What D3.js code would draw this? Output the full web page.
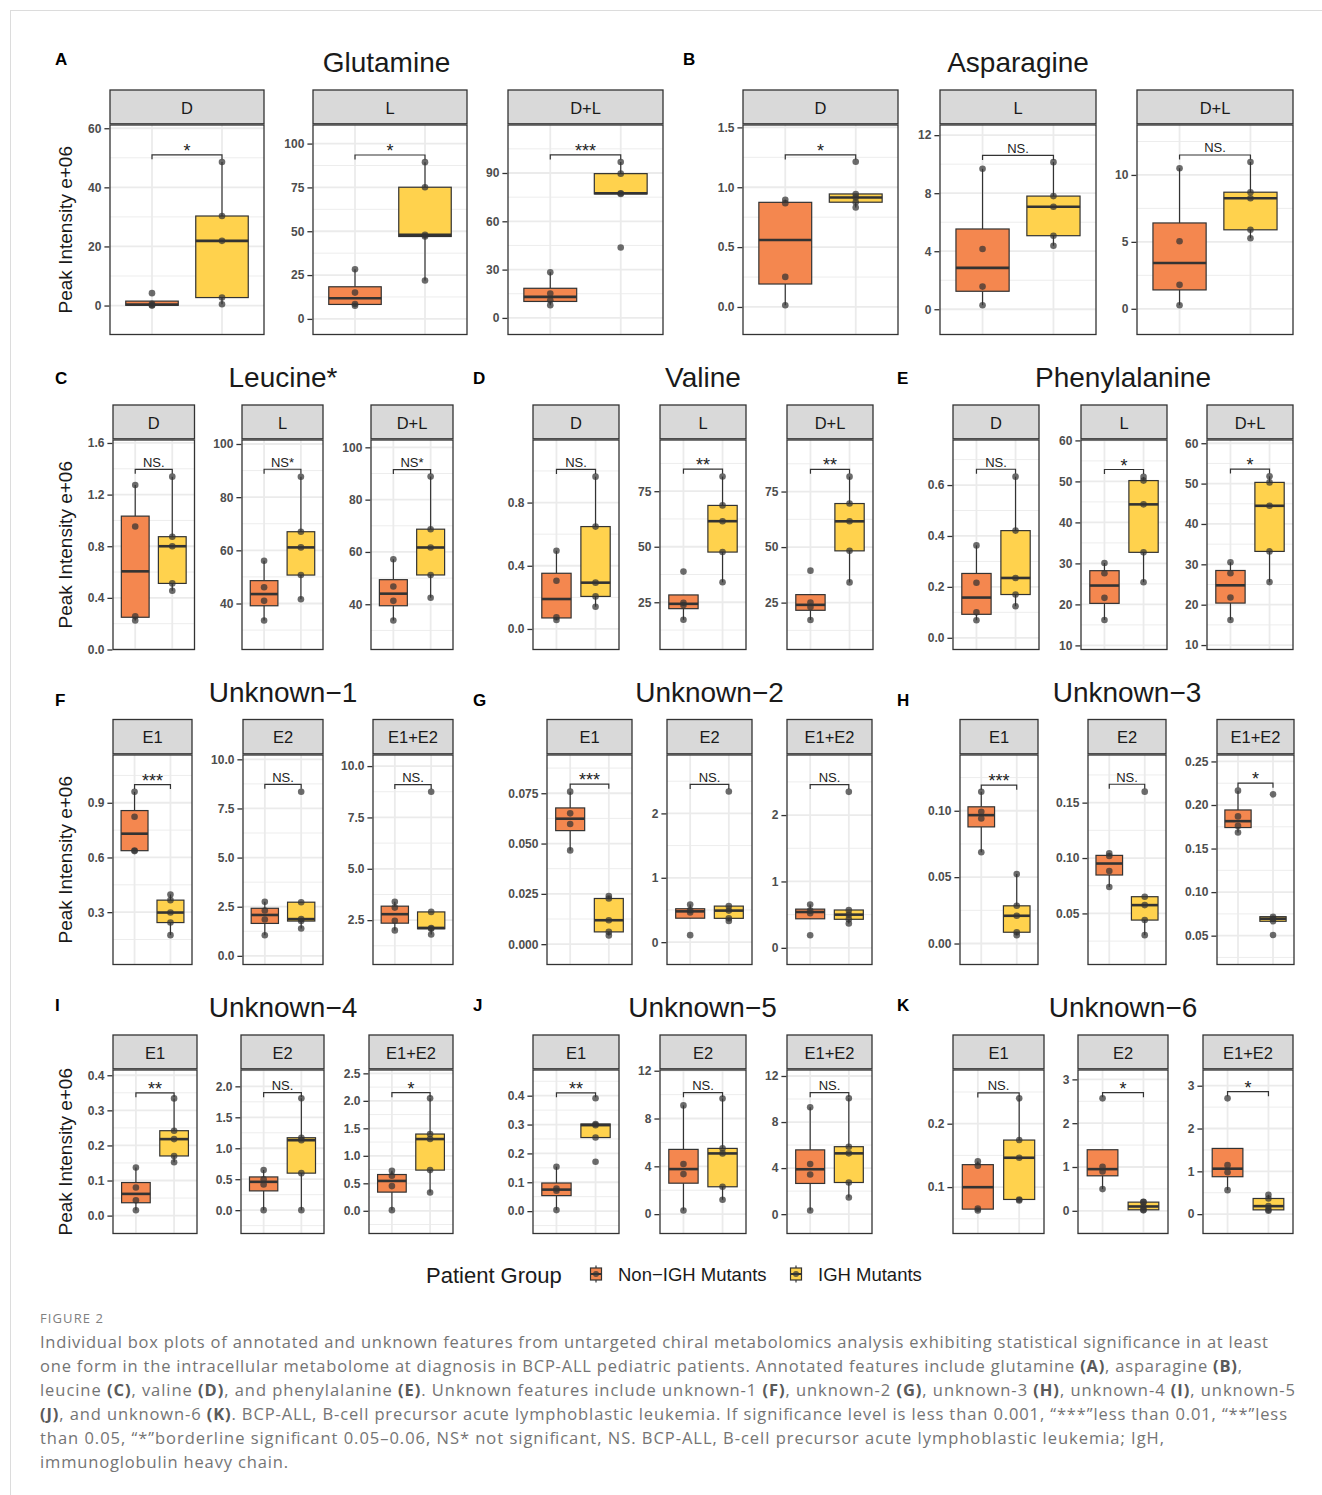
<!DOCTYPE html>
<html><head><meta charset="utf-8">
<script src="https://cdn.jsdelivr.net/npm/d3@7"></script>
<style>body{margin:0;background:#fff} svg{display:block}</style>
</head><body><script>
// ---------------- DATA ----------------
const groups = ["Non\u2212IGH Mutants", "IGH Mutants"];
const groupColors = ["#F4874F", "#FFD24D"];
const metabolites = ["Glutamine","Asparagine","Leucine*","Valine","Phenylalanine",
  "Unknown\u22121","Unknown\u22122","Unknown\u22123","Unknown\u22124","Unknown\u22125","Unknown\u22126"];
const panelLetters = ["A","B","C","D","E","F","G","H","I","J","K"];
const aminoForms = ["D","L","D+L"];
const unknownForms = ["E1","E2","E1+E2"];

// Non-IGH Mutants (n=4) values per metabolite, per form
const nonIGHValues = [
  [[0.0,0.1,0.6,4.2],[7.5,8.5,15.0,28.3],[7.9,11.0,15.1,28.3]],
  [[0.014,0.251,0.867,0.895],[0.28,1.56,4.15,9.68],[0.27,1.79,5.05,10.5]],
  [[0.225,0.258,0.953,1.274],[33.6,41.0,46.1,56.1],[33.8,41.3,46.8,57.2]],
  [[0.057,0.074,0.305,0.495],[17.1,23.8,24.8,38.8],[17.2,23.0,25.0,39.4]],
  [[0.069,0.10,0.216,0.363],[16.2,21.6,27.6,30.1],[16.2,21.8,27.8,30.5]],
  [[0.635,0.638,0.823,0.96],[1.05,1.85,2.31,2.75],[2.0,2.47,3.11,3.39]],
  [[0.0466,0.0597,0.065,0.0758],[0.109,0.46,0.497,0.585],[0.19,0.52,0.56,0.653]],
  [[0.0688,0.0942,0.0992,0.1143],[0.0738,0.0883,0.1018,0.1042],[0.1685,0.176,0.1869,0.2165]],
  [[0.0152,0.0438,0.08,0.137],[0.0,0.415,0.5,0.647],[0.012,0.449,0.637,0.728]],
  [[0.0035,0.0705,0.0786,0.154],[0.31,3.35,4.19,9.1],[0.32,3.45,4.35,9.28]],
  [[0.063,0.066,0.1337,0.1405],[0.495,0.90,1.003,2.567],[0.561,0.979,1.145,2.705]]
];
// IGH Mutants (n=5)
const ighValues = [
  [[0.45,2.7,21.9,30.3,48.6],[21.9,47.0,47.9,75.1,89.4],[43.7,77.0,77.4,89.6,96.8]],
  [[0.831,0.875,0.914,0.944,1.213],[4.38,5.07,7.07,7.8,10.14],[5.27,5.9,8.26,8.71,10.97]],
  [[0.455,0.512,0.80,0.874,1.339],[41.6,50.7,61.1,67.0,87.7],[42.5,51.2,61.7,68.7,88.8]],
  [[0.141,0.206,0.293,0.648,0.964],[34.0,47.6,61.5,68.6,81.6],[34.1,48.3,61.6,69.6,81.7]],
  [[0.124,0.170,0.235,0.421,0.633],[25.4,32.7,44.4,50.2,51.1],[25.6,33.2,44.5,50.3,51.8]],
  [[0.174,0.243,0.298,0.366,0.397],[1.39,1.77,1.87,2.73,8.35],[1.8,2.08,2.12,2.9,8.75]],
  [[0.0043,0.0061,0.0119,0.0227,0.0239],[0.33,0.37,0.49,0.56,2.34],[0.367,0.43,0.50,0.57,2.35]],
  [[0.0063,0.0085,0.0209,0.0284,0.0523],[0.0304,0.044,0.0575,0.0651,0.1599],[0.0508,0.0665,0.0695,0.0718,0.2122]],
  [[0.152,0.170,0.218,0.242,0.334],[0.0,0.598,1.13,1.17,1.806],[0.334,0.74,1.305,1.396,2.045]],
  [[0.171,0.255,0.298,0.302,0.391],[1.2,2.29,5.08,5.5,9.68],[1.45,2.75,5.28,5.86,10.06]],
  [[0.079,0.0805,0.1463,0.1742,0.24],[0.01,0.023,0.099,0.198,0.206],[0.078,0.10,0.187,0.366,0.452]]
];
const yTicks = [
  [[0,20,40,60],[0,25,50,75,100],[0,30,60,90]],
  [[0,0.5,1,1.5],[0,4,8,12],[0,5,10]],
  [[0,0.4,0.8,1.2,1.6],[40,60,80,100],[40,60,80,100]],
  [[0,0.4,0.8],[25,50,75],[25,50,75]],
  [[0,0.2,0.4,0.6],[10,20,30,40,50,60],[10,20,30,40,50,60]],
  [[0.3,0.6,0.9],[0,2.5,5,7.5,10],[2.5,5,7.5,10]],
  [[0,0.025,0.05,0.075],[0,1,2],[0,1,2]],
  [[0,0.05,0.1],[0.05,0.1,0.15],[0.05,0.1,0.15,0.2,0.25]],
  [[0,0.1,0.2,0.3,0.4],[0,0.5,1,1.5,2],[0,0.5,1,1.5,2,2.5]],
  [[0,0.1,0.2,0.3,0.4],[0,4,8,12],[0,4,8,12]],
  [[0.1,0.2],[0,1,2,3],[0,1,2,3]]
];
const yDomains = [
  [[-9.8,61.1],[-8.9,110.6],[-10.3,119.8]],
  [[-0.23,1.52],[-1.74,12.7],[-1.92,13.73]],
  [[0,1.623],[22.7,101.5],[22.7,102.8]],
  [[-0.13,1.196],[3.74,98.05],[3.9,98.2]],
  [[-0.046,0.777],[9.0,60.1],[8.9,60.8]],
  [[0.013,1.162],[-0.44,10.22],[0.34,10.54]],
  [[-0.0101,0.094],[-0.347,2.907],[-0.251,2.905]],
  [[-0.0158,0.142],[0.0039,0.193],[0.0169,0.2574]],
  [[-0.051,0.415],[-0.377,2.264],[-0.413,2.561]],
  [[-0.0775,0.489],[-1.62,12.06],[-1.68,12.52]],
  [[0.0268,0.2847],[-0.518,3.214],[-0.452,3.367]]
];
const bracketY = [
  [51,93.5,101.2],[1.27,10.6,11.49],[1.396,90.5,91.5],[1.01,84.9,85.0],[0.662,52.9,53.6],
  [1.0,8.73,9.1],[0.0795,2.45,2.46],[0.1193,0.1666,0.2251],[0.350,1.898,2.148],
  [0.41,10.16,10.55],[0.2486,2.696,2.86]
];
const sigLabels = [
  ["*","*","***"],["*","NS.","NS."],["NS.","NS*","NS*"],["NS.","**","**"],["NS.","*","*"],
  ["***","NS.","NS."],["***","NS.","NS."],["***","NS.","*"],["**","NS.","*"],["**","NS.","NS."],["NS.","*","*"]
];
const captionLines = [
  "Individual box plots of annotated and unknown features from untargeted chiral metabolomics analysis exhibiting statistical significance in at least",
  "one form in the intracellular metabolome at diagnosis in BCP-ALL pediatric patients. Annotated features include glutamine (A), asparagine (B),",
  "leucine (C), valine (D), and phenylalanine (E). Unknown features include unknown-1 (F), unknown-2 (G), unknown-3 (H), unknown-4 (I), unknown-5",
  "(J), and unknown-6 (K). BCP-ALL, B-cell precursor acute lymphoblastic leukemia. If significance level is less than 0.001, \u201c***\u201dless than 0.01, \u201c**\u201dless",
  "than 0.05, \u201c*\u201dborderline significant 0.05\u20130.06, NS* not significant, NS. BCP-ALL, B-cell precursor acute lymphoblastic leukemia; IgH,",
  "immunoglobulin heavy chain."
];

// ---------------- LAYOUT ----------------
const W = 1322, H = 1495;
const FONT = "'Liberation Sans', Arial, Helvetica, sans-serif";
const rowsLayout = [
  {stripTop:90, stripBot:125, bottom:334.5, titleY:72, letterY:65},
  {stripTop:405, stripBot:440, bottom:649.5, titleY:387, letterY:384},
  {stripTop:719.5, stripBot:755, bottom:964.5, titleY:702, letterY:706},
  {stripTop:1035, stripBot:1070, bottom:1233.5, titleY:1017, letterY:1011}
];
const metaRow = [0,0,1,1,1,2,2,2,3,3,3];
const panelX = [
  [[110,264],[313,467],[508,663]],
  [[743,898],[940,1096],[1137,1293]],
  [[113,194.5],[242,323],[371,453]],
  [[533,619],[660,746],[787,873]],
  [[953,1039],[1081,1167],[1207,1293]],
  [[113,192],[243,323],[373,453]],
  [[547,632],[667,752],[787,872]],
  [[960,1038],[1088,1166],[1217,1294]],
  [[113,197],[241,324],[369,453]],
  [[533,619],[660,746],[787,872]],
  [[953,1044],[1078,1168],[1203,1293]]
];
const letterX = [55,683,55,473,897,55,473,897,55,473,897];
const yTitleMetabolites = [0,2,5,8];

const svg = d3.select("body").append("svg").attr("width", W).attr("height", H)
  .style("font-family", FONT);

svg.append("rect").attr("x",10.5).attr("y",10.5).attr("width",1340).attr("height",1500)
  .attr("fill","none").attr("stroke","#dcdcdc").attr("stroke-width",1);

function boxStats(vals){
  const s = vals.slice().sort(d3.ascending);
  const q1 = d3.quantile(s,0.25), med = d3.quantile(s,0.5), q3 = d3.quantile(s,0.75);
  const iqr = q3-q1;
  const lo = d3.min(s.filter(v => v >= q1-1.5*iqr));
  const hi = d3.max(s.filter(v => v <= q3+1.5*iqr));
  return {q1, med, q3, lo, hi, s};
}
function decimalsFor(ticks){
  for (let d = 0; d < 8; d++) {
    if (ticks.every(t => Math.abs(+t.toFixed(d) - t) < 1e-9)) return d;
  }
  return 3;
}

metabolites.forEach((name, m) => {
  const row = rowsLayout[metaRow[m]];
  const px = panelX[m];
  svg.append("text").attr("x",(px[0][0]+px[2][1])/2).attr("y",row.titleY)
    .attr("text-anchor","middle").attr("font-size",28).attr("fill","#1a1a1a").text(name);
  svg.append("text").attr("x",letterX[m]).attr("y",row.letterY)
    .attr("font-size",17).attr("font-weight","bold").attr("fill","#000").text(panelLetters[m]);
  if (yTitleMetabolites.includes(m)) {
    const cy = (row.stripBot+row.bottom)/2;
    svg.append("text").attr("transform",`translate(72,${cy}) rotate(-90)`)
      .attr("text-anchor","middle").attr("font-size",19).attr("fill","#1a1a1a")
      .text("Peak Intensity e+06");
  }
  const forms = m < 5 ? aminoForms : unknownForms;
  forms.forEach((form, p) => {
    const [x0, x1] = px[p];
    const dom = yDomains[m][p];
    const y = d3.scaleLinear().domain(dom).range([row.bottom, row.stripBot]);
    const x = d3.scaleBand().domain(groups).range([x0, x1]).paddingInner(0).paddingOuter(0.1);
    const cx = g => x(g) + x.bandwidth()/2;
    const g = svg.append("g");
    g.append("rect").attr("x",x0).attr("y",row.stripBot).attr("width",x1-x0)
      .attr("height",row.bottom-row.stripBot).attr("fill","#fff");
    const ticks = yTicks[m][p];
    const step = ticks[1]-ticks[0];
    const minors = d3.range(ticks.length+1).map(i => ticks[0]+(i-0.5)*step)
      .filter(v => v > dom[0] && v < dom[1]);
    g.selectAll(".minor").data(minors).join("line")
      .attr("x1",x0).attr("x2",x1).attr("y1",d=>y(d)).attr("y2",d=>y(d))
      .attr("stroke","#ededed").attr("stroke-width",1);
    g.selectAll(".major").data(ticks.filter(v=>v>=dom[0]&&v<=dom[1])).join("line")
      .attr("x1",x0).attr("x2",x1).attr("y1",d=>y(d)).attr("y2",d=>y(d))
      .attr("stroke","#ebebeb").attr("stroke-width",1.8);
    g.selectAll(".vgrid").data(groups).join("line")
      .attr("x1",d=>cx(d)).attr("x2",d=>cx(d)).attr("y1",row.stripBot).attr("y2",row.bottom)
      .attr("stroke","#ebebeb").attr("stroke-width",1.8);

    const seriesVals = [nonIGHValues[m][p], ighValues[m][p]];
    const bw = x.bandwidth()*0.75;
    seriesVals.forEach((vals, gi) => {
      const st = boxStats(vals);
      const c = cx(groups[gi]);
      const bg = g.append("g");
      bg.append("line").attr("x1",c).attr("x2",c).attr("y1",y(st.hi)).attr("y2",y(st.q3))
        .attr("stroke","#333").attr("stroke-width",1.2);
      bg.append("line").attr("x1",c).attr("x2",c).attr("y1",y(st.q1)).attr("y2",y(st.lo))
        .attr("stroke","#333").attr("stroke-width",1.2);
      bg.append("rect").attr("x",c-bw/2).attr("width",bw).attr("y",y(st.q3))
        .attr("height",Math.max(0.5,y(st.q1)-y(st.q3)))
        .attr("fill",groupColors[gi]).attr("stroke","#333").attr("stroke-width",1.2);
      bg.append("line").attr("x1",c-bw/2).attr("x2",c+bw/2).attr("y1",y(st.med)).attr("y2",y(st.med))
        .attr("stroke","#333").attr("stroke-width",2.6);
    });
    seriesVals.forEach((vals, gi) => {
      g.selectAll(null).data(vals).join("circle")
        .attr("cx",cx(groups[gi])).attr("cy",d=>y(d)).attr("r",3.3)
        .attr("fill","#333").attr("fill-opacity",0.72);
    });
    // significance bracket
    const by = y(bracketY[m][p]);
    const bx1 = cx(groups[0]), bx2 = cx(groups[1]);
    g.append("path").attr("d",`M${bx1},${by+4.5}V${by}H${bx2}V${by+4.5}`)
      .attr("fill","none").attr("stroke","#333").attr("stroke-width",1.2);
    const lab = sigLabels[m][p];
    const stars = /^\*+$/.test(lab);
    g.append("text").attr("x",(bx1+bx2)/2).attr("y", stars ? by+2 : by-2.5)
      .attr("text-anchor","middle").attr("font-size", stars ? 18 : 13)
      .attr("fill","#222").text(lab);
    // border
    g.append("rect").attr("x",x0).attr("y",row.stripBot).attr("width",x1-x0)
      .attr("height",row.bottom-row.stripBot).attr("fill","none")
      .attr("stroke","#333").attr("stroke-width",1.3);
    // strip
    g.append("rect").attr("x",x0).attr("y",row.stripTop).attr("width",x1-x0)
      .attr("height",row.stripBot-row.stripTop-1.2).attr("fill","#d9d9d9")
      .attr("stroke","#333").attr("stroke-width",1.3);
    g.append("text").attr("x",(x0+x1)/2).attr("y",(row.stripTop+row.stripBot)/2+6)
      .attr("text-anchor","middle").attr("font-size",16.5).attr("fill","#1a1a1a").text(form);
    // axis
    const axis = d3.axisLeft(y).tickValues(ticks)
      .tickFormat(d3.format("."+decimalsFor(ticks)+"f")).tickSize(5).tickPadding(3);
    const ag = g.append("g").attr("transform",`translate(${x0-0.6},0)`).call(axis);
    ag.select(".domain").remove();
    ag.selectAll(".tick line").attr("stroke","#333").attr("stroke-width",1.3);
    ag.selectAll(".tick text").attr("fill","#4d4d4d").attr("font-size",12)
      .attr("font-weight","bold").attr("font-family",FONT);
  });
});

// ---------------- LEGEND ----------------
const lg = svg.append("g");
lg.append("text").attr("x",426).attr("y",1283).attr("font-size",22).attr("fill","#1a1a1a").text("Patient Group");
const keyX = [596, 796], labX = [618, 818];
groups.forEach((gname, i) => {
  const k = lg.append("g").attr("transform",`translate(${keyX[i]},1274)`);
  k.append("line").attr("y1",-8.5).attr("y2",8.5).attr("stroke","#333").attr("stroke-width",1.2);
  k.append("rect").attr("x",-5.5).attr("y",-6).attr("width",11).attr("height",12)
    .attr("fill",groupColors[i]).attr("stroke","#333").attr("stroke-width",1.2);
  k.append("line").attr("x1",-5.5).attr("x2",5.5).attr("stroke","#333").attr("stroke-width",2);
  k.append("circle").attr("r",3).attr("fill","#333").attr("fill-opacity",0.72);
  lg.append("text").attr("x",labX[i]).attr("y",1281).attr("font-size",18.5).attr("fill","#1a1a1a").text(gname);
});

// ---------------- CAPTION ----------------
const CAP = "'Open Sans', 'Noto Sans', sans-serif";
svg.append("text").attr("x",40).attr("y",1323).attr("font-family",CAP).attr("font-size",13)
  .attr("fill","#808080").attr("textLength",63).attr("lengthAdjust","spacing").text("FIGURE 2");
const lineEnds = [1268,1242,1295,1287,1164,288];
captionLines.forEach((ln, i) => {
  const t = svg.append("text").attr("x",40).attr("y",1348+24*i).attr("font-family",CAP)
    .attr("font-size",16.5).attr("fill","#747474")
    .attr("textLength",lineEnds[i]-40).attr("lengthAdjust","spacing");
  ln.split(/(\([A-K]\))/).forEach(seg => {
    if (!seg) return;
    const ts = t.append("tspan").text(seg);
    if (/^\([A-K]\)$/.test(seg)) ts.attr("font-weight","bold").attr("fill","#5a5a5a");
  });
});
</script></body></html>
